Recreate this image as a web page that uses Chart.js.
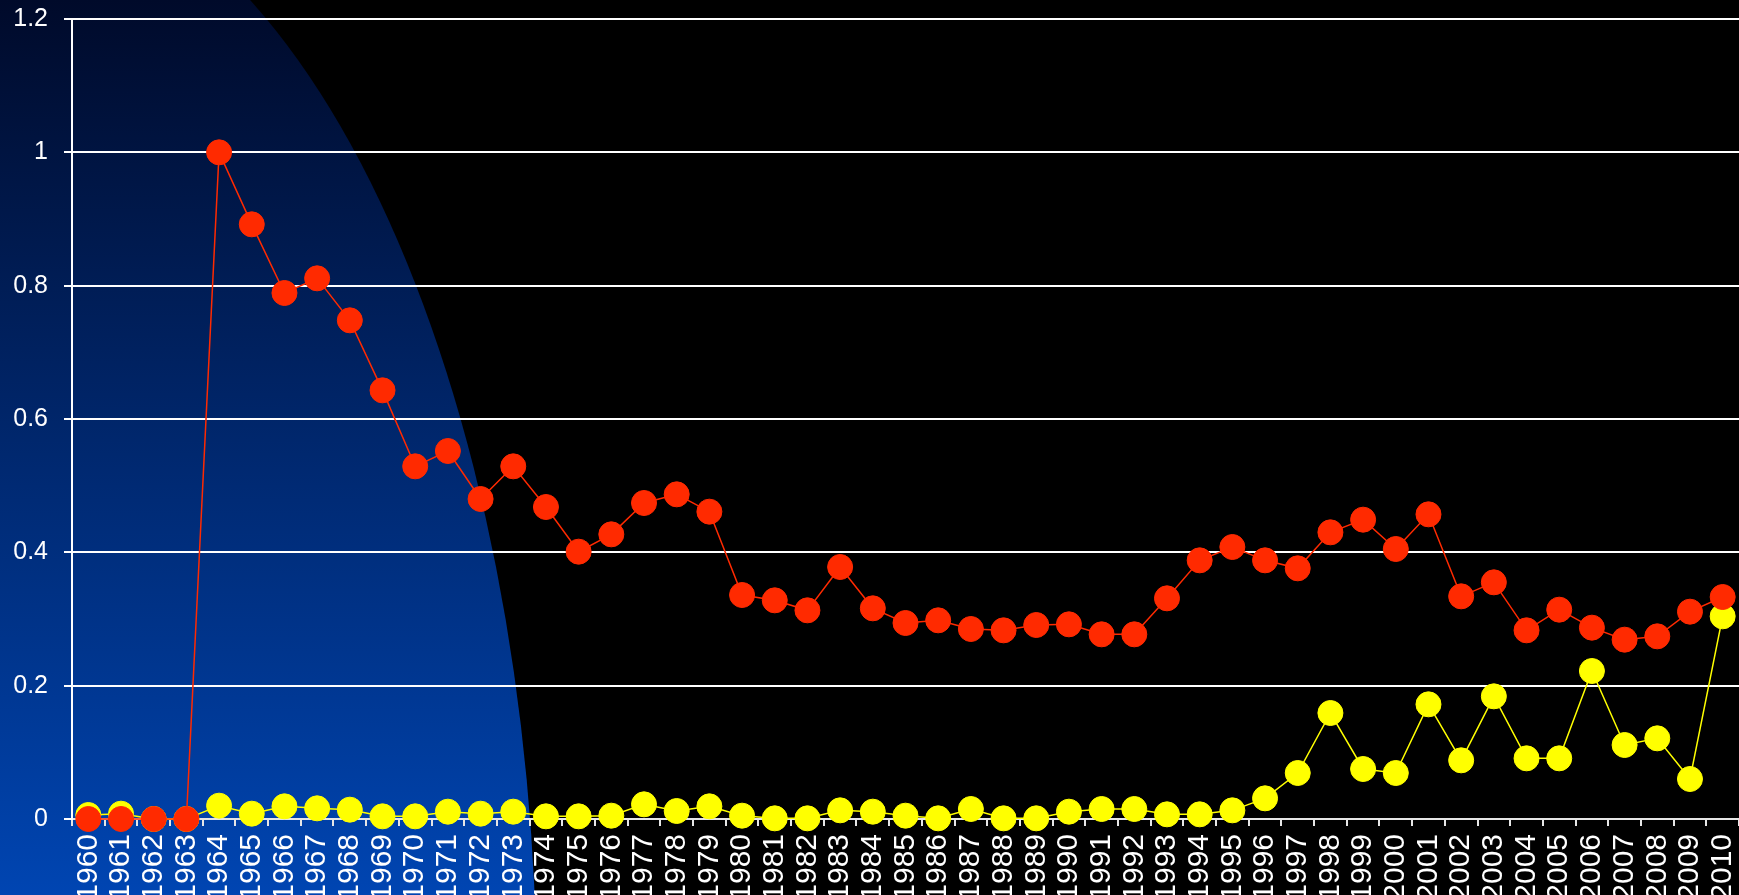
<!DOCTYPE html>
<html>
<head>
<meta charset="utf-8">
<script src="https://cdn.jsdelivr.net/npm/chart.js@4/dist/chart.umd.min.js"></script>
<style>
  html, body { margin: 0; padding: 0; background: #000; overflow: hidden; }
  #wrap { position: relative; width: 1739px; height: 895px; }
</style>
</head>
<body>
<div id="wrap"><canvas id="chart"></canvas></div>
<script>
let years = [];
for (let y = 1960; y <= 2010; y++) years.push(String(y));

// red series
let redValues = [
  0, 0, 0, 0, 1.0, 0.892, 0.789, 0.811, 0.748, 0.643,
  0.529, 0.552, 0.480, 0.529, 0.468, 0.401, 0.427, 0.474, 0.487, 0.461,
  0.336, 0.328, 0.313, 0.378, 0.316, 0.294, 0.298, 0.285, 0.283, 0.291,
  0.292, 0.277, 0.277, 0.331, 0.388, 0.408, 0.388, 0.376, 0.430, 0.449,
  0.405, 0.457, 0.334, 0.355, 0.283, 0.314, 0.287, 0.269, 0.274, 0.311,
  0.333
];
// yellow series
let yellowValues = [
  0.006, 0.008, 0, 0, 0.020, 0.008, 0.019, 0.016, 0.014, 0.004,
  0.004, 0.011, 0.008, 0.011, 0.004, 0.004, 0.005, 0.022, 0.012, 0.019,
  0.005, 0.001, 0.001, 0.013, 0.011, 0.005, 0.001, 0.015, 0.001, 0.001,
  0.011, 0.015, 0.015, 0.007, 0.007, 0.013, 0.031, 0.069, 0.159, 0.075,
  0.069, 0.172, 0.088, 0.184, 0.091, 0.091, 0.222, 0.111, 0.121, 0.060,
  0.304
];
let yTicks = [0, 0.2, 0.4, 0.6, 0.8, 1, 1.2];

// black page with the blue curved panel at the left
const backdrop = {
  id: 'backdrop',
  beforeDraw(chart) {
    const ctx = chart.ctx;
    const w = chart.width, h = chart.height;
    ctx.save();
    ctx.fillStyle = '#000';
    ctx.fillRect(0, 0, w, h);
    const g = ctx.createLinearGradient(0, 0, 0, h);
    g.addColorStop(0, '#000a2a');
    g.addColorStop(1, '#0045b2');
    ctx.beginPath();
    ctx.ellipse(0, 1000, 537, 1130, 0, 0, Math.PI * 2);
    ctx.fillStyle = g;
    ctx.fill();
    ctx.restore();
  }
};

function noPad(scale) {
  scale.paddingTop = 0;
  scale.paddingBottom = 0;
  scale.paddingLeft = 0;
  scale.paddingRight = 0;
}

const font = 'Liberation Sans, Arial, Helvetica, sans-serif';

new Chart(document.getElementById('chart').getContext('2d'), {
  type: 'line',
  data: {
    labels: years,
    datasets: [{
      label: 'red',
      data: redValues,
      borderColor: '#ff2a00',
      backgroundColor: '#ff2a00',
      borderWidth: 1.5,
      pointRadius: 12.5,
      pointBackgroundColor: '#ff2a00',
      pointBorderColor: '#ff2a00',
      pointBorderWidth: 1,
      tension: 0,
      clip: false
    }, {
      label: 'yellow',
      data: yellowValues,
      borderColor: '#ffff00',
      backgroundColor: '#ffff00',
      borderWidth: 1.5,
      pointRadius: 12.5,
      pointBackgroundColor: '#ffff00',
      pointBorderColor: '#ffff00',
      pointBorderWidth: 1,
      tension: 0,
      clip: false
    }]
  },
  options: {
    responsive: true,
    maintainAspectRatio: false,
    animation: false,
    events: [],
    layout: { autoPadding: false, padding: { top: 19, right: 0, left: 0, bottom: 0 } },
    plugins: { legend: { display: false }, tooltip: { enabled: false } },
    scales: {
      x: {
        offset: true,
        grid: { drawOnChartArea: false, drawTicks: true, tickLength: 7, color: '#e6e6e6', lineWidth: 2, offset: true },
        border: { color: '#e6e6e6', width: 2 },
        ticks: {
          color: '#fff',
          font: { family: font, size: 30 },
          minRotation: 90,
          maxRotation: 90,
          autoSkip: false,
          padding: 8
        },
        afterFit(scale) { scale.height = 76; noPad(scale); }
      },
      y: {
        min: 0,
        max: 1.2,
        afterBuildTicks(scale) { scale.ticks = yTicks.map(v => ({ value: v })); },
        grid: { color: '#fff', lineWidth: 2, tickLength: 8 },
        border: { color: '#fff', width: 2 },
        ticks: {
          color: '#fff',
          font: { family: font, size: 25 },
          padding: 16,
          callback: v => String(Math.round(v * 10) / 10)
        },
        afterFit(scale) { scale.width = 72; noPad(scale); }
      }
    }
  },
  plugins: [backdrop]
});
</script>
</body>
</html>
